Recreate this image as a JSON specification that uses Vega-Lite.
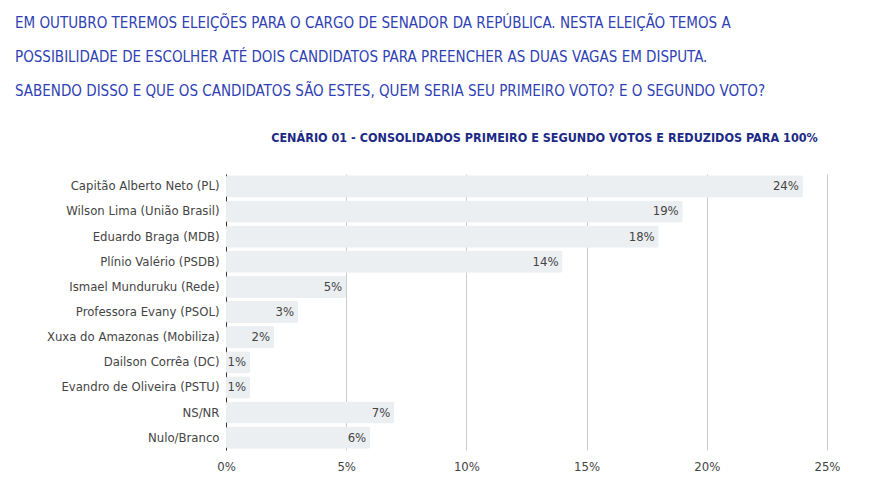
{
  "$schema": "https://vega.github.io/schema/vega-lite/v6.json",
  "width": 883,
  "height": 495,
  "autosize": {"type": "fit", "contains": "padding"},
  "padding": {"left": 15, "right": 32, "top": 16, "bottom": 22},
  "background": "white",
  "config": {"view": {"stroke": null}},
  "title": {
    "text": [
      "EM OUTUBRO TEREMOS ELEIÇÕES PARA O CARGO DE SENADOR DA REPÚBLICA. NESTA ELEIÇÃO TEMOS A",
      "POSSIBILIDADE DE ESCOLHER ATÉ DOIS CANDIDATOS PARA PREENCHER AS DUAS VAGAS EM DISPUTA.",
      "SABENDO DISSO E QUE OS CANDIDATOS SÃO ESTES, QUEM SERIA SEU PRIMEIRO VOTO? E O SEGUNDO VOTO?"
    ],
    "anchor": "start",
    "frame": "bounds",
    "font": "DejaVu Sans Condensed, sans-serif",
    "fontSize": 15,
    "fontWeight": "normal",
    "color": "#2f3fb4",
    "lineHeight": 34,
    "offset": 32
  },
  "data": {
    "values": [
      {"nome": "Capitão Alberto Neto (PL)", "pct": 0.24},
      {"nome": "Wilson Lima (União Brasil)", "pct": 0.19},
      {"nome": "Eduardo Braga (MDB)", "pct": 0.18},
      {"nome": "Plínio Valério (PSDB)", "pct": 0.14},
      {"nome": "Ismael Munduruku (Rede)", "pct": 0.05},
      {"nome": "Professora Evany (PSOL)", "pct": 0.03},
      {"nome": "Xuxa do Amazonas (Mobiliza)", "pct": 0.02},
      {"nome": "Dailson Corrêa (DC)", "pct": 0.01},
      {"nome": "Evandro de Oliveira (PSTU)", "pct": 0.01},
      {"nome": "NS/NR", "pct": 0.07},
      {"nome": "Nulo/Branco", "pct": 0.06}
    ]
  },
  "encoding": {
    "y": {
      "field": "nome",
      "type": "nominal",
      "sort": null,
      "title": null,
      "scale": {"paddingInner": 0.12, "paddingOuter": 0.05},
      "axis": {
        "labelFont": "DejaVu Sans Condensed, sans-serif",
        "labelFontSize": 13,
        "labelColor": "#444444",
        "labelPadding": 7,
        "minExtent": 211,
        "maxExtent": 211,
        "ticks": false,
        "domain": true,
        "domainColor": "#333333",
        "labelLimit": 300
      }
    }
  },
  "layer": [
    {
      "mark": {"type": "bar", "color": "#eceff1", "cornerRadius": 2},
      "encoding": {
        "x": {
          "field": "pct",
          "type": "quantitative",
          "scale": {"domain": [0, 0.25]},
          "title": null,
          "axis": {
            "orient": "bottom",
            "values": [0, 0.05, 0.1, 0.15, 0.2, 0.25],
            "format": ".0%",
            "labelFlush": false,
            "labelFont": "DejaVu Sans Condensed, sans-serif",
            "labelFontSize": 13,
            "labelColor": "#444444",
            "labelPadding": 10,
            "ticks": false,
            "domain": false,
            "grid": true,
            "gridColor": "#cccccc",
            "gridWidth": 1
          }
        }
      }
    },
    {
      "mark": {
        "type": "text",
        "align": "right",
        "baseline": "middle",
        "dx": -4,
        "font": "DejaVu Sans Condensed, sans-serif",
        "fontSize": 13,
        "color": "#444444"
      },
      "encoding": {
        "x": {
          "field": "pct",
          "type": "quantitative",
          "axis": {
            "orient": "top",
            "title": "CENÁRIO 01 - CONSOLIDADOS PRIMEIRO E SEGUNDO VOTOS E REDUZIDOS PARA 100%",
            "titleFont": "DejaVu Sans Condensed, sans-serif",
            "titleFontSize": 12.5,
            "titleFontWeight": "bold",
            "titleColor": "#1c2a86",
            "titlePadding": 30,
            "titleX": 318,
            "labels": false,
            "ticks": false,
            "domain": false,
            "grid": false
          }
        },
        "text": {"field": "pct", "type": "quantitative", "format": ".0%"}
      }
    }
  ],
  "resolve": {"axis": {"x": "independent"}}
}
